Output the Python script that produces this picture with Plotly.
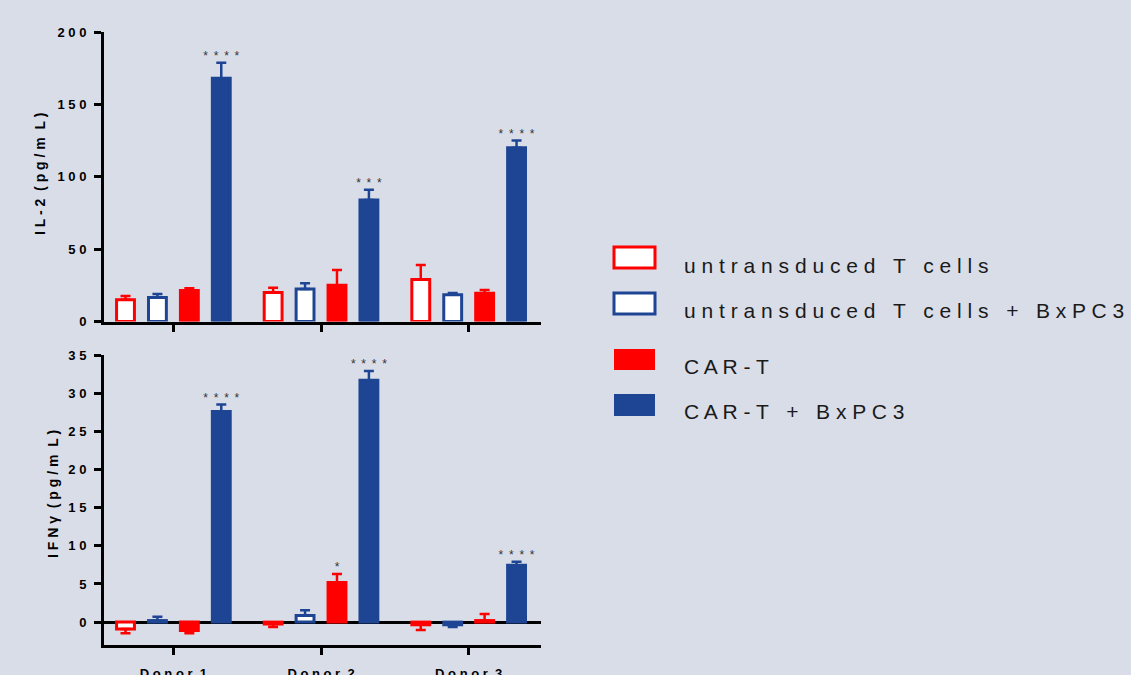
import plotly.graph_objects as go

W, H = 1131, 675

donors = ["Donor 1", "Donor 2", "Donor 3"]
donor_labels = ["D o n o r  1", "D o n o r  2", "D o n o r  3"]
series = ["untransduced T cells", "untransduced T cells + BxPC3", "CAR-T", "CAR-T + BxPC3"]

# IL-2 (pg/mL)
il2_untr = [15.0, 20.0, 29.0]
il2_untr_err = [2.6, 3.3, 10.0]
il2_untr_bx = [16.5, 22.5, 18.5]
il2_untr_bx_err = [2.5, 4.0, 1.2]
il2_car = [21.5, 25.0, 19.5]
il2_car_err = [1.5, 10.5, 2.2]
il2_car_bx = [168.0, 84.0, 120.0]
il2_car_bx_err = [10.7, 7.0, 5.0]
il2_sig_car_bx = ["****", "***", "****"]

# IFN-gamma (pg/mL)
ifn_untr = [-0.9, -0.25, -0.35]
ifn_untr_err = [0.55, 0.4, 0.7]
ifn_untr_bx = [0.2, 0.85, -0.35]
ifn_untr_bx_err = [0.5, 0.7, 0.3]
ifn_car = [-1.1, 5.2, 0.2]
ifn_car_err = [0.35, 1.1, 0.85]
ifn_car_bx = [27.6, 31.7, 7.45]
ifn_car_bx_err = [0.9, 1.2, 0.45]
ifn_sig_car = ["", "*", ""]
ifn_sig_car_bx = ["****", "****", "****"]

il2_ticks = [0, 50, 100, 150, 200]
il2_ticktext = ["0", "5 0", "1 0 0", "1 5 0", "2 0 0"]
ifn_ticks = [0, 5, 10, 15, 20, 25, 30, 35]
ifn_ticktext = ["0", "5", "1 0", "1 5", "2 0", "2 5", "3 0", "3 5"]

RED = "#ff0000"
BLUE = "#1e4593"
BG = "#d9dde8"
FONT = "Arial, Liberation Sans, sans-serif"

styles = [
    dict(fill="white", line=RED),
    dict(fill="white", line=BLUE),
    dict(fill=RED, line=RED),
    dict(fill=BLUE, line=BLUE),
]

fig = go.Figure()


def up_down(vals, errs):
    up = [e if v >= 0 else 0 for v, e in zip(vals, errs)]
    dn = [e if v < 0 else 0 for v, e in zip(vals, errs)]
    return up, dn


def star_text(s):
    return " \u2009".join(list(s)) if s else ""


def add_panel(data, xa, ya):
    for i, (vals, errs, sig) in enumerate(data):
        st = styles[i]
        up, dn = up_down(vals, errs)
        fig.add_trace(go.Bar(
            x=donors, y=vals, name=series[i], offsetgroup=str(i),
            marker=dict(color=st["fill"], line=dict(color=st["line"], width=3)),
            error_y=dict(type="data", symmetric=False, array=up, arrayminus=dn,
                         color=st["line"], thickness=2.5, width=5),
            xaxis=xa, yaxis=ya, showlegend=False,
        ))
    for i, (vals, errs, sig) in enumerate(data):
        tops = [v + e if v >= 0 else v for v, e in zip(vals, errs)]
        txt = [star_text(s) for s in sig] if sig else [""] * len(vals)
        fig.add_trace(go.Scatter(
            x=donors, y=tops, mode="text", text=txt,
            textposition="top center", offsetgroup=str(i),
            textfont=dict(size=12, color="#333333", family=FONT),
            xaxis=xa, yaxis=ya, showlegend=False, hoverinfo="skip",
        ))


add_panel([
    (il2_untr, il2_untr_err, None),
    (il2_untr_bx, il2_untr_bx_err, None),
    (il2_car, il2_car_err, None),
    (il2_car_bx, il2_car_bx_err, il2_sig_car_bx),
], "x", "y")

add_panel([
    (ifn_untr, ifn_untr_err, None),
    (ifn_untr_bx, ifn_untr_bx_err, None),
    (ifn_car, ifn_car_err, ifn_sig_car),
    (ifn_car_bx, ifn_car_bx_err, ifn_sig_car_bx),
], "x2", "y2")

x0, x1 = 104 / W, 541 / W
tickfont = dict(family=FONT, size=13, color="black", weight="bold")
xcommon = dict(
    domain=[x0, x1], range=[-0.47, 2.49], type="category", automargin=False,
    showline=True, linecolor="black", linewidth=3,
    ticks="outside", ticklen=7, tickwidth=2.5, tickcolor="black",
    showgrid=False, zeroline=False, fixedrange=True,
    tickvals=donors, ticktext=donor_labels, tickfont=tickfont,
)
ycommon = dict(
    showline=True, linecolor="black", linewidth=3, automargin=False,
    ticks="outside", ticklen=7, tickwidth=2.5, tickcolor="black",
    showgrid=False, tickfont=tickfont, ticklabelstandoff=5, fixedrange=True,
)

fig.update_layout(
    width=W, height=H, autosize=False,
    margin=dict(l=0, r=0, t=0, b=0, pad=0),
    paper_bgcolor=BG, plot_bgcolor=BG,
    barmode="group", bargap=0.135, bargroupgap=0.44,
    scattermode="group", scattergap=0.135,
    font=dict(family=FONT, color="black"),
    xaxis=dict(**xcommon, anchor="y", showticklabels=False),
    yaxis=dict(**ycommon, domain=[1 - 321.5 / H, 1 - 32 / H], range=[0, 200],
               tickvals=il2_ticks, ticktext=il2_ticktext, zeroline=False, anchor="x"),
    xaxis2=dict(**xcommon, anchor="y2", showticklabels=True, ticklabelstandoff=7),
    yaxis2=dict(**ycommon, domain=[1 - 645 / H, 1 - 355 / H], range=[-3, 35],
                tickvals=ifn_ticks, ticktext=ifn_ticktext,
                zeroline=True, zerolinecolor="black", zerolinewidth=3, anchor="x2"),
)

# y-axis titles
fig.add_annotation(x=40 / W, y=1 - 174 / H, xref="paper", yref="paper",
                   xanchor="center", yanchor="middle",
                   text="I L - 2  ( p g / m  L )", textangle=-90, showarrow=False,
                   font=dict(family=FONT, size=14, color="black", weight="bold"))
fig.add_annotation(x=53 / W, y=1 - 494 / H, xref="paper", yref="paper",
                   xanchor="center", yanchor="middle",
                   text="I F N γ  ( p g / m  L )", textangle=-90, showarrow=False,
                   font=dict(family=FONT, size=14, color="black", weight="bold"))

# legend (drawn manually)
leg_rows = [(247, 268, 265), (293, 314, 311), (349, 370, 366), (394, 416, 411)]
NB = "\u00a0"


def spaced(s):
    words = s.split(" ")
    return (NB * 3).join(" ".join(list(w)) for w in words)


for i, (ya, yb, yt) in enumerate(leg_rows):
    st = styles[i]
    outlined = st["fill"] == "white"
    fig.add_shape(type="rect", xref="paper", yref="paper",
                  x0=614 / W, x1=655 / W, y0=1 - yb / H, y1=1 - ya / H,
                  fillcolor=st["fill"],
                  line=dict(color=st["line"], width=3 if outlined else 0))
    fig.add_annotation(x=682 / W, y=1 - yt / H, xref="paper", yref="paper",
                       xanchor="left", yanchor="middle", showarrow=False,
                       text=spaced(series[i]),
                       font=dict(family=FONT, size=21, color="#1a1a1a"))

fig.write_html("out.html", config={"displayModeBar": False},
               post_script="document.body.style.margin='0';document.body.style.overflow='hidden';")
